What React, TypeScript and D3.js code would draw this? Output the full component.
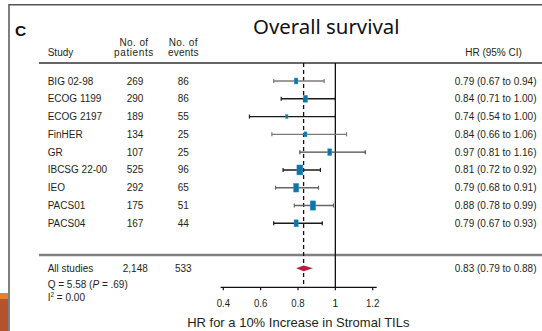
import React from "react";
import * as d3 from "d3";

const studies = ["BIG 02-98", "ECOG 1199", "ECOG 2197", "FinHER", "GR", "IBCSG 22-00", "IEO", "PACS01", "PACS04"];
const patients = ["269", "290", "189", "134", "107", "525", "292", "175", "167"];
const events = ["86", "86", "55", "25", "25", "96", "65", "51", "44"];
const hr = [0.79, 0.84, 0.74, 0.84, 0.97, 0.81, 0.79, 0.88, 0.79];
const lower = [0.67, 0.71, 0.54, 0.66, 0.81, 0.72, 0.68, 0.78, 0.67];
const upper = [0.94, 1.0, 1.0, 1.06, 1.16, 0.92, 0.91, 0.99, 0.93];
const weights = [6, 7, 4, 5, 6.7, 10, 8.7, 9.3, 7];

const pooledLabel = "All studies";
const pooledPatients = "2,148";
const pooledEvents = "533";
const pooledHr = 0.83;
const pooledLower = 0.79;
const pooledUpper = 0.88;

const xTicks = [0.4, 0.6, 0.8, 1, 1.2];

const whiskerTone = ["#7a7a7a", "#1a1a1a", "#1a1a1a", "#7a7a7a", "#4a4a4a", "#1a1a1a", "#666", "#666", "#1a1a1a"];

const FONT = "'Liberation Sans', Arial, sans-serif";
const TXT = "#231f20";

function fmt(v: number) {
  return v.toFixed(2);
}

export default function App() {
  const W = 542, H = 331;
  const x = d3.scaleLinear().domain([0.4, 1.2]).range([223.3, 372.7]);
  const y = d3.scaleLinear().domain([0, studies.length - 1]).range([81, 223.3]);
  const size = d3.scaleLinear().domain([0, 10]).range([0, 10]);

  const topLine = 63;
  const axisY = 287.3;
  const pooledY = 268.3;

  const diamond = d3.line<[number, number]>()([
    [x(pooledLower), pooledY],
    [x(pooledHr), pooledY - 2.9],
    [x(pooledUpper), pooledY],
    [x(pooledHr), pooledY + 2.9],
  ]) + "Z";

  return (
    <div style={{ position: "fixed", left: 0, top: 0 }}>
      <svg width={W} height={H} style={{ display: "block", background: "#fff" }} fontFamily={FONT}>
        {/* frame */}
        <line x1={9} x2={W} y1={4.7} y2={4.7} stroke="#555" strokeWidth={1.5} />
        <line x1={9} x2={9} y1={4} y2={H} stroke="#555" strokeWidth={1.5} />
        <rect x={0} y={293} width={8} height={6} fill="#e2822a" />
        <rect x={0} y={299} width={8} height={32} fill="#b4532b" />

        {/* titles */}
        <text x={15} y={30} fontSize={15.5} fontWeight="bold" fill="#111" dominantBaseline="central">C</text>
        <text x={253} y={25.5} fontSize={20.4} fill="#111" fontFamily="'Noto Sans', 'Open Sans', sans-serif" dominantBaseline="central">Overall survival</text>

        {/* header */}
        <g fontSize={10} fill={TXT}>
          <text x={47.7} y={52.5} dominantBaseline="central">Study</text>
          <text x={134} y={42.5} textAnchor="middle" dominantBaseline="central" letterSpacing={0.4}>No. of</text>
          <text x={134} y={52.5} textAnchor="middle" dominantBaseline="central" letterSpacing={0.6}>patients</text>
          <text x={183.3} y={42.5} textAnchor="middle" dominantBaseline="central" letterSpacing={0.4}>No. of</text>
          <text x={183.3} y={52.5} textAnchor="middle" dominantBaseline="central" letterSpacing={0.2}>events</text>
          <text x={493.5} y={52} textAnchor="middle" dominantBaseline="central">HR (95% CI)</text>
        </g>

        <line x1={39} x2={W} y1={topLine} y2={topLine} stroke="#333" strokeWidth={1.5} />
        <line x1={39} x2={W} y1={255} y2={255} stroke="#808080" strokeWidth={2.5} />

        {/* reference lines */}
        <line x1={x(1)} x2={x(1)} y1={topLine} y2={axisY} stroke="#111" strokeWidth={1.3} />
        <line x1={x(pooledHr)} x2={x(pooledHr)} y1={topLine} y2={axisY} stroke="#111" strokeWidth={1.3} strokeDasharray="4,3" />

        {/* study rows */}
        {studies.map((s, i) => {
          const cy = y(i);
          const h = size(weights[i]);
          const w = h * 0.6;
          const col = whiskerTone[i];
          return (
            <g key={s}>
              <g fontSize={10} fill={TXT}>
                <text x={47.7} y={cy} dominantBaseline="central">{s}</text>
                <text x={135} y={cy} textAnchor="middle" dominantBaseline="central">{patients[i]}</text>
                <text x={183.3} y={cy} textAnchor="middle" dominantBaseline="central">{events[i]}</text>
                <text x={536.5} y={cy} textAnchor="end" dominantBaseline="central">
                  {`${fmt(hr[i])} (${fmt(lower[i])} to ${fmt(upper[i])})`}
                </text>
              </g>
              <line x1={x(lower[i])} x2={x(upper[i])} y1={cy} y2={cy} stroke={col} strokeWidth={1.4} />
              <line x1={x(lower[i])} x2={x(lower[i])} y1={cy - 2} y2={cy + 2} stroke={col} strokeWidth={1.2} />
              <line x1={x(upper[i])} x2={x(upper[i])} y1={cy - 2} y2={cy + 2} stroke={col} strokeWidth={1.2} />
              <rect x={x(hr[i]) - w / 2} y={cy - h / 2} width={w} height={h} fill="#0b76a8" stroke="#3d9cc6" strokeWidth={0.4} />
            </g>
          );
        })}

        {/* pooled */}
        <g fontSize={10} fill={TXT}>
          <text x={47.7} y={pooledY} dominantBaseline="central">{pooledLabel}</text>
          <text x={135.3} y={pooledY} textAnchor="middle" dominantBaseline="central">{pooledPatients}</text>
          <text x={183.3} y={pooledY} textAnchor="middle" dominantBaseline="central">{pooledEvents}</text>
          <text x={536.5} y={pooledY} textAnchor="end" dominantBaseline="central">
            {`${fmt(pooledHr)} (${fmt(pooledLower)} to ${fmt(pooledUpper)})`}
          </text>
          <text x={47.7} y={284} dominantBaseline="central">
            Q = 5.58 (<tspan fontStyle="italic">P</tspan> = .69)
          </text>
          <text x={47.7} y={297} dominantBaseline="central">
            I<tspan fontSize={6.5} dy={-3.5}>2</tspan><tspan dy={3.5}> = 0.00</tspan>
          </text>
        </g>
        <path d={diamond} fill="#b5203a" />

        {/* axis */}
        <line x1={x(0.4) - 2.7} x2={x(1.2) + 4} y1={axisY} y2={axisY} stroke="#111" strokeWidth={1.2} />
        {xTicks.map((t) => {
          const label = String(t);
          const extra = label.length > 1 ? { textLength: label.length * 4.45, lengthAdjust: "spacingAndGlyphs" } : {};
          return (
            <g key={t}>
              <line x1={x(t)} x2={x(t)} y1={axisY} y2={axisY + 3} stroke="#111" strokeWidth={1.2} />
              <text x={x(t)} y={303} fontSize={11} fill={TXT} textAnchor="middle" dominantBaseline="central" {...extra}>
                {label}
              </text>
            </g>
          );
        })}
        <text x={298.3} y={322} fontSize={13} fill={TXT} textAnchor="middle" dominantBaseline="central">
          HR for a 10% Increase in Stromal TILs
        </text>
      </svg>
    </div>
  );
}
